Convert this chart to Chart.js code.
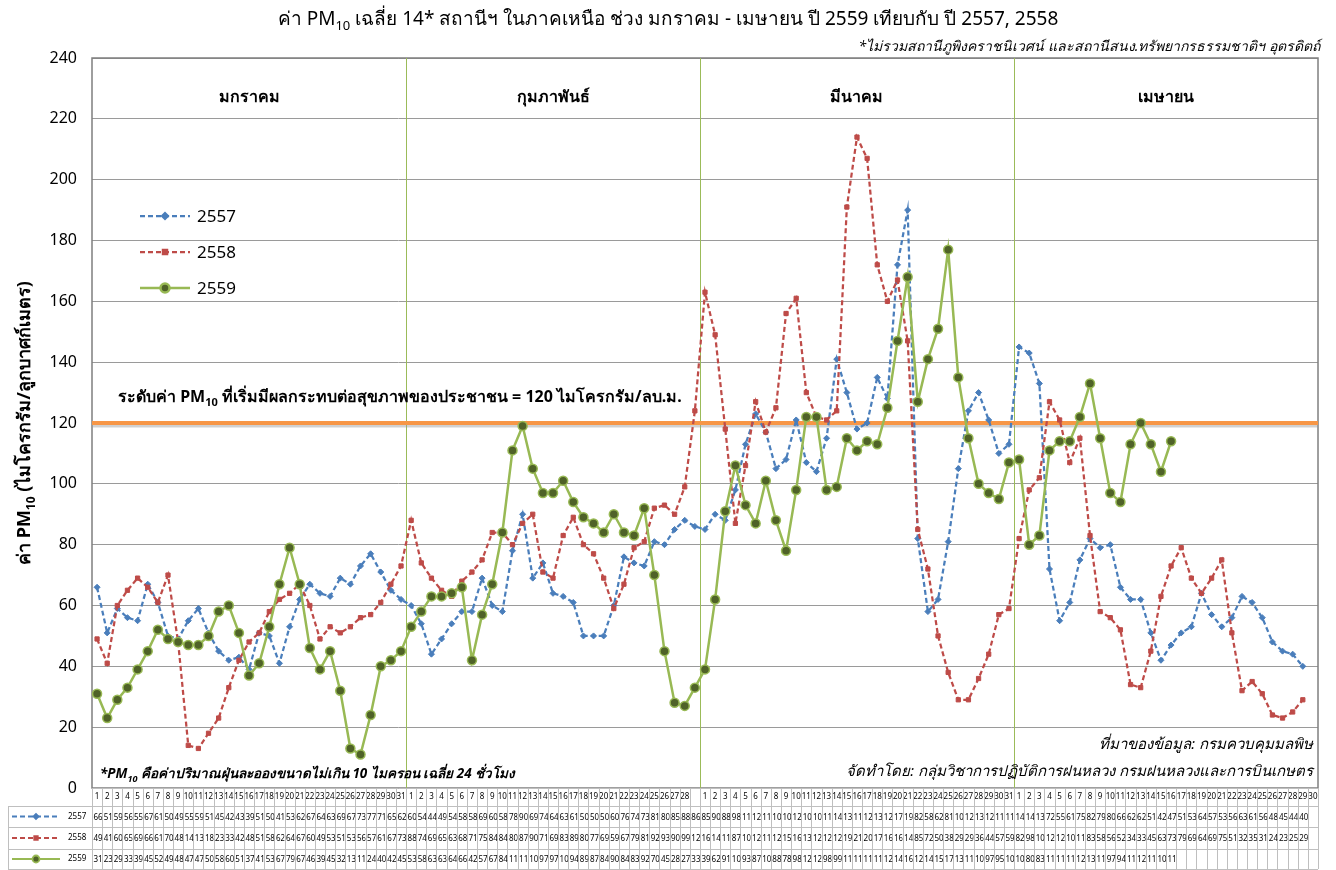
<!DOCTYPE html>
<html>
<head>
<meta charset="utf-8">
<script src="https://cdn.jsdelivr.net/npm/chart.js@4.4.1/dist/chart.umd.min.js"></script>
<style>
  html, body { margin: 0; padding: 0; background: #fff; }
  #wrap { width: 1336px; height: 870px; position: relative; }
</style>
</head>
<body>
<div id="wrap"><canvas id="pm10-chart"></canvas></div>
<script>
// ---- data ----
const months = ["มกราคม", "กุมภาพันธ์", "มีนาคม", "เมษายน"];
const monthDays = [31, 29, 31, 30];
const seriesNames = ["2557", "2558", "2559"];
const yTicks = [0, 20, 40, 60, 80, 100, 120, 140, 160, 180, 200, 220, 240];
const threshold = 120;

const janDays = ["1","2","3","4","5","6","7","8","9","10","11","12","13","14","15","16","17","18","19","20","21","22","23","24","25","26","27","28","29","30","31"];
const febDays = ["1","2","3","4","5","6","7","8","9","10","11","12","13","14","15","16","17","18","19","20","21","22","23","24","25","26","27","28",""];
const marDays = ["1","2","3","4","5","6","7","8","9","10","11","12","13","14","15","16","17","18","19","20","21","22","23","24","25","26","27","28","29","30","31"];
const aprDays = ["1","2","3","4","5","6","7","8","9","10","11","12","13","14","15","16","17","18","19","20","21","22","23","24","25","26","27","28","29","30"];

const pm2557 = [
  66,51,59,56,55,67,61,50,49,55,59,51,45,42,43,39,51,50,41,53,62,67,64,63,69,67,73,77,71,65,62,
  60,54,44,49,54,58,58,69,60,58,78,90,69,74,64,63,61,50,50,50,60,76,74,73,81,80,85,88,86,
  85,90,88,98,113,123,117,105,108,121,107,104,115,141,130,118,120,135,128,172,190,82,58,62,81,105,124,130,121,110,113,
  145,143,133,72,55,61,75,82,79,80,66,62,62,51,42,47,51,53,64,57,53,56,63,61,56,48,45,44,40,null
];
const pm2558 = [
  49,41,60,65,69,66,61,70,48,14,13,18,23,33,42,48,51,58,62,64,67,60,49,53,51,53,56,57,61,67,73,
  88,74,69,65,63,68,71,75,84,84,80,87,90,71,69,83,89,80,77,69,59,67,79,81,92,93,90,99,124,
  163,149,118,87,106,127,117,125,156,161,130,122,121,124,191,214,207,172,160,167,147,85,72,50,38,29,29,36,44,57,59,
  82,98,102,127,121,107,115,83,58,56,52,34,33,45,63,73,79,69,64,69,75,51,32,35,31,24,23,25,29,null
];
const pm2559 = [
  31,23,29,33,39,45,52,49,48,47,47,50,58,60,51,37,41,53,67,79,67,46,39,45,32,13,11,24,40,42,45,
  53,58,63,63,64,66,42,57,67,84,111,119,105,97,97,101,94,89,87,84,90,84,83,92,70,45,28,27,33,
  39,62,91,106,93,87,101,88,78,98,122,122,98,99,115,111,114,113,125,147,168,127,141,151,177,135,115,100,97,95,107,
  108,80,83,111,114,114,122,133,115,97,94,113,120,113,104,114,
  null,null,null,null,null,null,null,null,null,null,null,null,null,null
];

const dayLabels = janDays.concat(febDays, marDays, aprDays);
const FONT = "Tahoma, 'Noto Sans', 'DejaVu Sans', sans-serif";

// series look
const styles = [
  { color: "#4a7ebb", fill: "#4a7ebb", dash: [5, 3], point: "rectRot", radius: 3, width: 2.25 },
  { color: "#be4b48", fill: "#be4b48", dash: [5, 3], point: "rect", radius: 3, width: 2.25 },
  { color: "#98b954", fill: "#4f6228", dash: [], point: "circle", radius: 4.5, width: 2.5 },
];
const seriesData = [pm2557, pm2558, pm2559];

// text with subscript parts
function drawRich(ctx, parts, x, y, size, style, align) {
  const setFont = (p) => { ctx.font = `${style} ${p.sub ? Math.round(size * 0.68) : size}px ${FONT}`; };
  let total = 0;
  parts.forEach((p) => { setFont(p); total += ctx.measureText(p.t).width; });
  let cx = align === "center" ? x - total / 2 : align === "right" ? x - total : x;
  ctx.textAlign = "left";
  ctx.textBaseline = "alphabetic";
  parts.forEach((p) => {
    setFont(p);
    ctx.fillText(p.t, cx, p.sub ? y + size * 0.28 : y);
    cx += ctx.measureText(p.t).width;
  });
}

function drawMarker(ctx, st, x, y, r) {
  ctx.fillStyle = st.fill;
  ctx.strokeStyle = st.color;
  Chart.helpers.drawPoint(ctx, { pointStyle: st.point, radius: r, rotation: 0, borderWidth: st.point === "circle" ? 1.5 : 1 }, x, y);
}

function drawSample(ctx, st, x1, x2, y, r, w) {
  ctx.save();
  ctx.strokeStyle = st.color;
  ctx.lineWidth = w;
  ctx.setLineDash(st.dash);
  ctx.beginPath();
  ctx.moveTo(x1, y);
  ctx.lineTo(x2, y);
  ctx.stroke();
  ctx.setLineDash([]);
  drawMarker(ctx, st, (x1 + x2) / 2, y, r);
  ctx.restore();
}

const decor = {
  id: "decor",
  beforeDatasetsDraw(chart) {
    const { ctx, chartArea: a, scales } = chart;
    const x = scales.x, y = scales.y;
    const cw = x.getPixelForValue(1) - x.getPixelForValue(0);
    ctx.save();

    // plot border
    ctx.strokeStyle = "#7f7f7f";
    ctx.lineWidth = 1.5;
    ctx.strokeRect(a.left, a.top, a.right - a.left, a.bottom - a.top);

    // month separators (go through the table too)
    let idx = 0;
    ctx.strokeStyle = "#9bbb59";
    ctx.lineWidth = 1;
    monthDays.forEach((n, m) => {
      const first = idx;
      idx += n;
      const cx = (x.getPixelForValue(first) + x.getPixelForValue(idx - 1)) / 2;
      ctx.fillStyle = "#000";
      drawRich(ctx, [{ t: months[m] }], cx, 102, 16, "bold", "center");
      if (m < monthDays.length - 1) {
        const bx = Math.round(x.getPixelForValue(idx) - cw / 2) + 0.5;
        ctx.beginPath();
        ctx.moveTo(bx, a.top);
        ctx.lineTo(bx, chart.height);
        ctx.stroke();
      }
    });

    // threshold line at 120
    const ty = y.getPixelForValue(threshold);
    ctx.strokeStyle = "rgba(150,150,150,0.45)";
    ctx.lineWidth = 4;
    ctx.beginPath();
    ctx.moveTo(a.left, ty + 2.5);
    ctx.lineTo(a.right, ty + 2.5);
    ctx.stroke();
    ctx.strokeStyle = "#f79646";
    ctx.lineWidth = 4;
    ctx.beginPath();
    ctx.moveTo(a.left, ty);
    ctx.lineTo(a.right, ty);
    ctx.stroke();
    ctx.fillStyle = "#000";
    drawRich(ctx, [
      { t: "ระดับค่า PM" }, { t: "10", sub: true },
      { t: " ที่เริ่มมีผลกระทบต่อสุขภาพของประชาชน = 120 ไมโครกรัม/ลบ.ม." },
    ], 118, ty - 21, 16, "bold", "left");
    ctx.restore();
  },
  afterDraw(chart) {
    const { ctx, chartArea: a, scales } = chart;
    const x = scales.x;
    const cw = x.getPixelForValue(1) - x.getPixelForValue(0);
    ctx.save();

    // titles
    ctx.fillStyle = "#000";
    drawRich(ctx, [
      { t: "ค่า PM" }, { t: "10", sub: true },
      { t: " เฉลี่ย 14* สถานีฯ ในภาคเหนือ ช่วง มกราคม - เมษายน ปี 2559 เทียบกับ ปี 2557, 2558" },
    ], 668, 25, 19, "normal", "center");
    drawRich(ctx, [{ t: "*ไม่รวมสถานีภูพิงคราชนิเวศน์ และสถานีสนง.ทรัพยากรธรรมชาติฯ อุตรดิตถ์" }], 1320, 51, 14, "italic", "right");

    // y title
    ctx.save();
    ctx.translate(24, (a.top + a.bottom) / 2);
    ctx.rotate(-Math.PI / 2);
    drawRich(ctx, [{ t: "ค่า PM" }, { t: "10", sub: true }, { t: " (ไมโครกรัม/ลูกบาศก์เมตร)" }], 0, 6, 18, "bold", "center");
    ctx.restore();

    // legend
    styles.forEach((st, i) => {
      const ly = 216 + i * 36;
      drawSample(ctx, st, 140, 190, ly, st.radius, st.width);
      ctx.fillStyle = "#000";
      ctx.font = `17px ${FONT}`;
      ctx.textAlign = "left";
      ctx.textBaseline = "middle";
      ctx.fillText(seriesNames[i], 197, ly + 1);
    });

    // notes
    ctx.fillStyle = "#000";
    drawRich(ctx, [{ t: "ที่มาของข้อมูล: กรมควบคุมมลพิษ" }], 1313, 749, 15, "italic", "right");
    drawRich(ctx, [{ t: "จัดทำโดย: กลุ่มวิชาการปฏิบัติการฝนหลวง กรมฝนหลวงและการบินเกษตร" }], 1313, 776, 15, "italic", "right");
    drawRich(ctx, [
      { t: "*PM" }, { t: "10", sub: true },
      { t: " คือค่าปริมาณฝุ่นละอองขนาดไม่เกิน 10 ไมครอน เฉลี่ย 24 ชั่วโมง" },
    ], 100, 778, 13.5, "italic bold", "left");

    // data table
    const rows = [a.bottom, a.bottom + 18, a.bottom + 39, a.bottom + 61, chart.height - 1];
    ctx.strokeStyle = "#bfbfbf";
    ctx.lineWidth = 1;
    rows.forEach((ry, r) => {
      ctx.beginPath();
      ctx.moveTo(r === 0 ? a.left : 8, Math.round(ry) + 0.5);
      ctx.lineTo(a.right, Math.round(ry) + 0.5);
      ctx.stroke();
    });
    for (let i = 0; i <= dayLabels.length; i++) {
      const bx = Math.round(x.getPixelForValue(0) - cw / 2 + i * cw) + 0.5;
      ctx.beginPath();
      ctx.moveTo(bx, rows[0]);
      ctx.lineTo(bx, rows[4]);
      ctx.stroke();
    }
    ctx.beginPath();
    ctx.moveTo(8.5, rows[1]);
    ctx.lineTo(8.5, rows[4]);
    ctx.stroke();

    seriesData.forEach((vals, s) => {
      const top = rows[s + 1], bot = rows[s + 2], mid = (top + bot) / 2;
      drawSample(ctx, styles[s], 12, 60, mid, s === 2 ? 3.5 : 2.5, 1.8);
      ctx.fillStyle = "#000";
      ctx.font = `8px ${FONT}`;
      ctx.textBaseline = "middle";
      ctx.textAlign = "left";
      ctx.fillText(seriesNames[s], 68, mid);
      vals.forEach((v, i) => {
        if (v === null) return;
        const left = x.getPixelForValue(i) - cw / 2;
        ctx.save();
        ctx.beginPath();
        ctx.rect(left + 1, top, cw - 1, bot - top);
        ctx.clip();
        ctx.fillText(String(v), left + 1.5, mid + 1);
        ctx.restore();
      });
    });
    ctx.restore();
  },
};

const chart = document.getElementById("pm10-chart");
new Chart(chart, {
  type: "line",
  data: {
    labels: dayLabels,
    datasets: seriesData.map((vals, i) => ({
      label: seriesNames[i],
      data: vals,
      borderColor: styles[i].color,
      borderWidth: styles[i].width,
      borderDash: styles[i].dash,
      backgroundColor: styles[i].fill,
      pointStyle: styles[i].point,
      pointRadius: styles[i].radius,
      pointBackgroundColor: styles[i].fill,
      pointBorderColor: styles[i].color,
      pointBorderWidth: i === 2 ? 1.5 : 1,
      tension: 0,
      fill: false,
      order: 3 - i,
    })),
  },
  options: {
    responsive: true,
    maintainAspectRatio: false,
    animation: false,
    layout: { padding: { top: 58, right: 18, left: 0, bottom: 0 } },
    scales: {
      x: {
        offset: true,
        grid: { display: false, drawTicks: false },
        border: { display: false },
        ticks: { autoSkip: false, maxRotation: 0, minRotation: 0, padding: 4, color: "#000", font: { family: FONT, size: 8 } },
        afterFit: (s) => { s.height = 82; },
      },
      y: {
        min: 0,
        max: 240,
        afterBuildTicks: (s) => { s.ticks = yTicks.map((v) => ({ value: v })); },
        grid: { color: "#9a9a9a", drawTicks: false },
        border: { display: false },
        ticks: { padding: 15, color: "#000", font: { family: FONT, size: 16 } },
        afterFit: (s) => { s.width = 92; },
      },
    },
    plugins: {
      legend: { display: false },
      tooltip: { enabled: false },
    },
  },
  plugins: [decor],
});
</script>
</body>
</html>
